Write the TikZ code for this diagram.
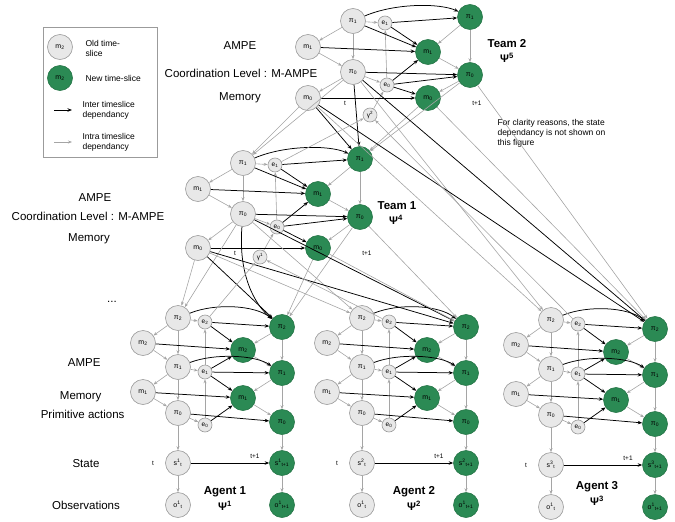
\documentclass[tikz,border=0pt]{standalone}
\usepackage{fontspec}
\setmainfont{Liberation Sans}
\usetikzlibrary{arrows.meta}
\definecolor{ngreen}{RGB}{43,138,84}
\definecolor{ogray}{RGB}{232,232,232}
\definecolor{obord}{RGB}{155,155,155}
\definecolor{lgray}{RGB}{165,165,165}
\tikzset{
 old/.style={circle,draw=obord,fill=ogray,line width=0.6pt,minimum size=25pt,inner sep=0pt,font=\fontsize{7}{8}\selectfont},
 new/.style={circle,draw=ngreen!85!black,fill=ngreen,line width=0.6pt,minimum size=25pt,inner sep=0pt,font=\fontsize{7}{8}\selectfont},
 sm/.style={circle,draw=obord,fill=ogray,line width=0.6pt,minimum size=14pt,inner sep=0pt,font=\fontsize{6.5}{7}\selectfont},
 intra/.style={draw=lgray,line width=0.6pt,-{Stealth[length=4pt,width=3pt]}},
 inter/.style={draw=black,line width=0.75pt,-{Stealth[length=4.5pt,width=3.5pt]}},
 lab/.style={font=\fontsize{11.5}{13}\selectfont},
 ttl/.style={font=\bfseries\fontsize{11.5}{13}\selectfont,inner sep=1pt},
 psi/.style={font=\bfseries\fontsize{11}{12}\selectfont,inner sep=1pt},
 tinyl/.style={font=\fontsize{6.5}{7}\selectfont},
 legt/.style={font=\fontsize{8.5}{10}\selectfont,align=left,anchor=west},
}
\newcommand\TeamBlock[2]{%
 \node[old] (pi1) at (353,21) {π\textsubscript{1}};
 \node[sm] (e1) at (385,23) {e\textsubscript{1}};
 \node[old] (m1) at (308,47) {m\textsubscript{1}};
 \node[old] (pi0) at (353,72) {π\textsubscript{0}};
 \node[sm] (e0) at (387,85) {e\textsubscript{0}};
 \node[old] (m0) at (308,#1) {m\textsubscript{0}};
 \node[sm] (g) at (370,115) {γ\textsuperscript{#2}};
 \node[new] (npi1) at (470,17) {π\textsubscript{1}};
 \node[new] (nm1) at (428,52) {m\textsubscript{1}};
 \node[new] (npi0) at (470,75) {π\textsubscript{0}};
 \node[new] (nm0) at (428,#1) {m\textsubscript{0}};
 \node[tinyl] (tl) at (345,#1+5) {t};
 \node[tinyl] (tnl) at (477,#1+5) {t+1};
 \draw[intra] (pi1) -- (m1);
 \draw[intra] (pi1) -- (pi0);
 \draw[intra] (pi1) -- (e1);
 \draw[intra] (m1) -- (pi0);
 \draw[intra] (pi0) -- (m0);
 \draw[intra] (pi0) -- (e0);
 \draw[intra] (e0) -- (e1);
 \draw[intra] (g) -- (e0);
 \draw[intra] (npi1) -- (nm1);
 \draw[intra] (npi1) -- (npi0);
 \draw[intra] (nm1) -- (npi0);
 \draw[intra] (npi0) -- (nm0);
 \draw[inter] (pi1) .. controls (395,3) and (440,3) .. (npi1);
 \draw[inter] (pi1) -- (nm1);
 \draw[inter] (e1) -- (npi1);
 \draw[inter] (e1) -- (nm1);
 \draw[inter] (m1) -- (nm1);
 \draw[inter] (pi0) -- (npi0);
 \draw[inter] (e0) -- (nm1);
 \draw[inter] (e0) -- (npi0);
 \draw[inter] (e0) -- (nm0);
 \draw[inter] (m0) -- (nm0);
}
\newcommand\AgentBlock[1]{%
 \node[old] (pi2) at (178,318) {π\textsubscript{2}};
 \node[sm] (e2) at (205,322) {e\textsubscript{2}};
 \node[old] (m2) at (143,343) {m\textsubscript{2}};
 \node[old] (pi1) at (178,367) {π\textsubscript{1}};
 \node[sm] (e1) at (205,372) {e\textsubscript{1}};
 \node[old] (m1) at (143,392) {m\textsubscript{1}};
 \node[old] (pi0) at (178,413) {π\textsubscript{0}};
 \node[sm] (e0) at (205,425) {e\textsubscript{0}};
 \node[new] (npi2) at (282,327) {π\textsubscript{2}};
 \node[new] (nm2) at (243,350) {m\textsubscript{2}};
 \node[new] (npi1) at (282,373) {π\textsubscript{1}};
 \node[new] (nm1) at (243,398) {m\textsubscript{1}};
 \node[new] (npi0) at (282,422) {π\textsubscript{0}};
 \node[old] (s) at (178,463) {s\textsuperscript{#1}\textsubscript{t}};
 \node[new] (ns) at (282,463) {s\textsuperscript{#1}\textsubscript{t+1}};
 \node[old] (o) at (178,505) {o\textsuperscript{1}\textsubscript{t}};
 \node[new] (no) at (282,505) {o\textsuperscript{1}\textsubscript{t+1}};
 \node[tinyl] (tl) at (153,463) {t};
 \node[tinyl] (tnl) at (255,456) {t+1};
 \draw[intra] (pi2) -- (m2);
 \draw[intra] (pi2) -- (pi1);
 \draw[intra] (pi2) -- (e2);
 \draw[intra] (m2) -- (pi1);
 \draw[intra] (pi1) -- (m1);
 \draw[intra] (pi1) -- (pi0);
 \draw[intra] (pi1) -- (e1);
 \draw[intra] (m1) -- (pi0);
 \draw[intra] (pi0) -- (e0);
 \draw[intra] (e0) -- (e1);
 \draw[intra] (e1) -- (e2);
 \draw[intra] (pi0) -- (s);
 \draw[intra] (s) -- (o);
 \draw[intra] (npi2) -- (nm2);
 \draw[intra] (npi2) -- (npi1);
 \draw[intra] (nm2) -- (npi1);
 \draw[intra] (npi1) -- (nm1);
 \draw[intra] (npi1) -- (npi0);
 \draw[intra] (nm1) -- (npi0);
 \draw[intra] (npi0) -- (ns);
 \draw[intra] (ns) -- (no);
 \draw[inter] (pi2) .. controls (215,303) and (255,305) .. (npi2);
 \draw[inter] (e2) -- (npi2);
 \draw[inter] (e2) -- (nm2);
 \draw[inter] (m2) -- (nm2);
 \draw[inter] (pi1) .. controls (215,353) and (255,355) .. (npi1);
 \draw[inter] (e1) -- (npi1);
 \draw[inter] (e1) -- (nm2);
 \draw[inter] (e1) -- (nm1);
 \draw[inter] (m1) -- (nm1);
 \draw[inter] (pi0) -- (npi0);
 \draw[inter] (e0) -- (nm1);
 \draw[inter] (s) -- (ns);
}
\begin{document}
\begin{tikzpicture}[x=1pt,y=-1pt]
\useasboundingbox (0,0) rectangle (675,522);
% legend
\draw[obord,line width=0.6pt] (43,27) rectangle (157,157);
\node[old] (Lold) at (60,47) {m\textsubscript{2}};
\node[new] (Lnew) at (60,78) {m\textsubscript{2}};
\node[legt] (Lt1) at (82,48) {Old time-\\slice};
\node[legt] (Lt2) at (82,78) {New time-slice};
\coordinate (La1) at (54,110);
\coordinate (La2) at (72,110);
\draw[inter] (La1) -- (La2);
\node[legt] (Lt3) at (79,110) {Inter timeslice\\dependancy};
\coordinate (Lb1) at (54,142);
\coordinate (Lb2) at (72,142);
\draw[intra] (Lb1) -- (Lb2);
\node[legt] (Lt4) at (79,142) {Intra timeslice\\dependancy};
% note
\node[legt,anchor=north west] (note) at (494,116) {For clarity reasons, the state\\dependancy is not shown on\\this figure};
% left labels
\node[lab] (T2a) at (240,46) {AMPE};
\node[lab] (T2c) at (241,73) {Coordination Level : M-AMPE};
\node[lab] (T2m) at (240,98) {Memory};
\node[lab] (T1a) at (95,198) {AMPE};
\node[lab] (T1c) at (88,216) {Coordination Level : M-AMPE};
\node[lab] (T1m) at (89,239) {Memory};
\node[lab] (Ad) at (112,302) {...};
\node[lab,anchor=east] (Aa) at (104,363) {AMPE};
\node[lab,anchor=east] (Am) at (105,397) {Memory};
\node[lab,anchor=east] (Ap) at (128,414) {Primitive actions};
\node[lab] (As) at (86,464) {State};
\node[lab] (Ao) at (86,505) {Observations};
% titles
\node[ttl] (T2t) at (507,44) {Team 2};
\node[psi] (T2p) at (507,58) {Ψ\textsuperscript{5}};
\node[ttl] (T1t) at (397,206) {Team 1};
\node[psi] (T1p) at (396,220) {Ψ\textsuperscript{4}};
\node[ttl] (A1t) at (225,492) {Agent 1};
\node[psi] (A1p) at (225,506) {Ψ\textsuperscript{1}};
\node[ttl] (A2t) at (414,492) {Agent 2};
\node[psi] (A2p) at (414,506) {Ψ\textsuperscript{2}};
\node[ttl] (A3t) at (597,487) {Agent 3};
\node[psi] (A3p) at (597,501) {Ψ\textsuperscript{3}};
% blocks
\begin{scope}[name prefix=T2-]
\TeamBlock{98}{2}
\end{scope}
\begin{scope}[shift={(-110,142)},name prefix=T1-]
\TeamBlock{106}{1}
\end{scope}
\begin{scope}[name prefix=A1-]
\AgentBlock{1}
\end{scope}
\begin{scope}[shift={(184,0)},name prefix=A2-]
\AgentBlock{2}
\end{scope}
\begin{scope}[shift={(373,2)},name prefix=A3-]
\AgentBlock{3}
\end{scope}
% cross edges team 2
\draw[intra] (T2-pi0) -- (T1-pi1);
\draw[intra] (T2-m0) -- (T1-pi1);
\draw[inter] (T2-pi0) -- (T1-npi1);
\draw[inter] (T2-m0) -- (T1-npi1);
\draw[intra] (T2-npi0) -- (T1-npi1);
\draw[intra] (T2-nm0) -- (T1-npi1);
\draw[intra] (T2-pi0) -- (A3-pi2);
\draw[intra] (T2-m0) -- (A3-pi2);
\draw[inter] (T2-pi0) -- (A3-npi2);
\draw[inter] (T2-m0) -- (A3-npi2);
\draw[intra] (T2-npi0) -- (A3-npi2);
\draw[intra] (T2-nm0) -- (A3-npi2);
% cross edges team 1
\draw[intra] (T1-pi0) -- (A1-pi2);
\draw[intra] (T1-m0) -- (A1-pi2);
\draw[inter] (T1-pi0) .. controls (238,275) and (255,305) .. (A1-npi2);
\draw[inter] (T1-m0) -- (A1-npi2);
\draw[intra] (T1-npi0) -- (A1-npi2);
\draw[intra] (T1-nm0) -- (A1-npi2);
\draw[intra] (T1-pi0) -- (A2-pi2);
\draw[intra] (T1-m0) -- (A2-pi2);
\draw[inter] (T1-pi0) -- (A2-npi2);
\draw[inter] (T1-m0) -- (A2-npi2);
\draw[intra] (T1-npi0) -- (A2-npi2);
\draw[intra] (T1-nm0) -- (A2-npi2);
% termination
\draw[intra] (T1-e1) -- (T2-g);
\draw[intra] (A3-e2) -- (T2-g);
\draw[intra] (A1-e2) -- (T1-g);
\draw[intra] (A2-e2) -- (T1-g);
\end{tikzpicture}
\end{document}
